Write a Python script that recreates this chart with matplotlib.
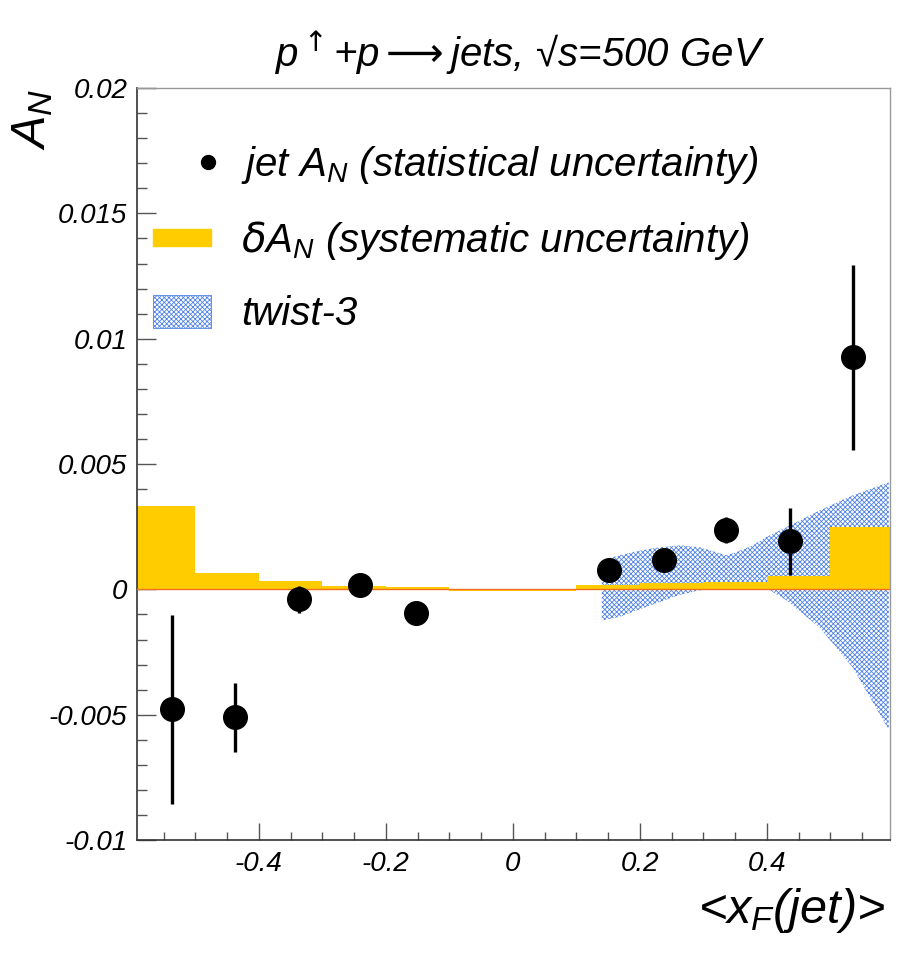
import matplotlib
matplotlib.use("Agg")
import matplotlib.pyplot as plt
from matplotlib.lines import Line2D
from matplotlib.patches import Patch, Rectangle
from matplotlib.legend_handler import HandlerBase, HandlerPatch
from matplotlib.ticker import MultipleLocator, FuncFormatter
import numpy as np

plt.rcParams['font.family'] = ['Liberation Sans', 'DejaVu Sans']
plt.rcParams['font.style'] = 'italic'
plt.rcParams['mathtext.fontset'] = 'custom'
plt.rcParams['mathtext.it'] = 'Liberation Sans:italic'
plt.rcParams['mathtext.rm'] = 'DejaVu Sans'
plt.rcParams['mathtext.fallback'] = 'stixsans'
plt.rcParams['hatch.linewidth'] = 0.6

# jet A_N points with statistical errors
xf = [-0.537, -0.438, -0.337, -0.240, -0.152, 0.151, 0.238, 0.336, 0.436, 0.535]
an = [-0.00479, -0.00511, -0.00040, 0.00016, -0.00093, 0.00076, 0.00118, 0.00238, 0.00191, 0.00926]
an_err = [0.00377, 0.00138, 0.00055, 0.00040, 0.00040, 0.00040, 0.00040, 0.00052, 0.00133, 0.00370]

# systematic uncertainty histogram
sys_edges = np.round(np.arange(-0.6, 0.61, 0.1), 2)
sys_vals = [0.00331, 0.00067, 0.00033, 0.00012, 0.00010, -0.00005,
            -0.00005, 0.00016, 0.00024, 0.00028, 0.00052, 0.00248]

# twist-3 band
tw_x = [0.140, 0.168, 0.195, 0.221, 0.247, 0.263, 0.294, 0.337, 0.353, 0.378, 0.400,
        0.431, 0.483, 0.535, 0.592]
tw_hi = [0.00116, 0.00136, 0.00152, 0.00164, 0.00172, 0.00176, 0.00168, 0.00136, 0.00150,
         0.00176, 0.00210, 0.00248, 0.00315, 0.00375, 0.00427]
tw_lo = [-0.00124, -0.00110, -0.00084, -0.00060, -0.00036, -0.00022, -0.00004, 0.00012,
         0.00016, 0.00012, 0.00004, -0.00044, -0.00152, -0.00311, -0.00560]

yellow = '#ffcc00'
blue = '#4f82e6'

fig = plt.figure(figsize=(9.17, 9.56), dpi=100)
ax = fig.add_axes([0.1494, 0.1213, 0.8212, 0.7866])

ax.fill_between(tw_x, tw_lo, tw_hi, facecolor='none', edgecolor=blue,
                hatch='xxxxxxx', linewidth=0, zorder=1)
ax.stairs(sys_vals, sys_edges, baseline=0, fill=True, color=yellow, zorder=2)
ax.axhline(0, color='#f07020', lw=1.0, zorder=3)
ax.errorbar(xf, an, yerr=an_err, fmt='o', color='black', ms=17, elinewidth=2.4,
            capsize=0, zorder=4)

ax.set_xlim(-0.592, 0.594)
ax.set_ylim(-0.01, 0.02)

ax.xaxis.set_major_locator(MultipleLocator(0.2))
ax.xaxis.set_minor_locator(MultipleLocator(0.05))
ax.yaxis.set_major_locator(MultipleLocator(0.005))
ax.yaxis.set_minor_locator(MultipleLocator(0.001))


def fmt(v, pos):
    if abs(v) < 1e-9:
        return '0'
    return ('%g' % round(v, 4))


ax.xaxis.set_major_formatter(FuncFormatter(fmt))
ax.yaxis.set_major_formatter(FuncFormatter(fmt))
ax.tick_params(axis='x', which='major', direction='in', length=12, width=1,
               color='#555555', labelsize=20, pad=8)
ax.tick_params(axis='x', which='minor', direction='in', length=6, width=1, color='#555555')
ax.tick_params(axis='y', which='major', direction='in', length=14, width=1,
               color='#555555', labelsize=20, pad=7)
ax.tick_params(axis='y', which='minor', direction='in', length=7, width=1, color='#555555')

for s in ['left', 'bottom']:
    ax.spines[s].set_color('#333333')
    ax.spines[s].set_linewidth(1.2)
for s in ['top', 'right']:
    ax.spines[s].set_color('#999999')
    ax.spines[s].set_linewidth(1.0)


class DotHandler(HandlerBase):
    def create_artists(self, legend, orig_handle, xdescent, ydescent, width,
                       height, fontsize, trans):
        ln = Line2D([width - xdescent - 2], [height / 2 - ydescent], marker='o',
                    color='black', ms=10, linestyle='none')
        ln.set_transform(trans)
        return [ln]


def thin_patch(legend, orig_handle, xdescent, ydescent, width, height, fontsize):
    return Rectangle((-xdescent, -ydescent + height * 0.25), width, height * 0.5)


handles = [
    Line2D([], [], marker='o', color='black', linestyle='none'),
    Patch(facecolor=yellow, edgecolor=yellow),
    Patch(facecolor='white', edgecolor=blue, hatch='xxxxxxx', linewidth=0.6),
]
labels = ['jet $A_N$ (statistical uncertainty)',
          r'$\mathrm{\delta}A_N$ (systematic uncertainty)',
          'twist-3']
ax.legend(handles, labels, loc='upper left', bbox_to_anchor=(0.021, 0.926),
          frameon=False, fontsize=29, handlelength=1.45, handleheight=0.9,
          handletextpad=0.75, labelspacing=0.82, borderpad=0, borderaxespad=0,
          handler_map={handles[0]: DotHandler(),
                       handles[1]: HandlerPatch(patch_func=thin_patch)})

fig.text(0.566, 0.930, r'$p^{\uparrow}$+p$\longrightarrow$jets, √s=500 GeV', ha='center',
         va='baseline', fontsize=29)
fig.text(0.036, 0.907, '$A_N$', rotation=90, ha='center', va='top', fontsize=35)
fig.text(0.965, 0.0345, '<$x_F$(jet)>', ha='right', va='baseline', fontsize=35)

fig.savefig('out.png', dpi=100)
